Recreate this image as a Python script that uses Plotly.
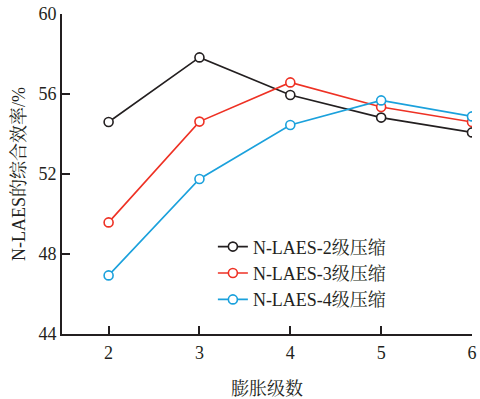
import plotly.graph_objects as go

stages = [2, 3, 4, 5, 6]
eff_2 = [54.6, 57.83, 55.95, 54.82, 54.08]
eff_3 = [49.58, 54.62, 56.58, 55.35, 54.6]
eff_4 = [46.93, 51.75, 54.45, 55.68, 54.88]
names = ["N-LAES-2级压缩", "N-LAES-3级压缩", "N-LAES-4级压缩"]
colors = ["#231f20", "#ee3124", "#1ba1dc"]
yticks = [44, 48, 52, 56, 60]

FONT = "'Liberation Serif', 'Times New Roman', 'Noto Serif CJK SC', 'Noto Sans CJK SC', serif"

fig = go.Figure()
for vals, name, col in zip([eff_2, eff_3, eff_4], names, colors):
    fig.add_trace(go.Scatter(
        x=stages, y=vals, name=name, mode="lines+markers",
        line=dict(color=col, width=1.6),
        marker=dict(symbol="circle", size=9, color="white",
                    line=dict(color=col, width=1.6)),
    ))

fig.update_layout(
    width=480, height=399,
    margin=dict(l=62, r=8, t=14, b=65),
    paper_bgcolor="white", plot_bgcolor="white",
    font=dict(family=FONT, size=18, color="#231f20"),
    showlegend=True,
    legend=dict(x=0.368, y=0.33, xanchor="left", yanchor="top",
                bgcolor="rgba(0,0,0,0)", font=dict(size=18, family=FONT),
                tracegroupgap=0, itemwidth=30),
    xaxis=dict(range=[1.487, 6.0], tickvals=stages, ticks="inside",
               ticklen=8, tickwidth=1.5, tickcolor="#231f20",
               showline=True, linecolor="#231f20", linewidth=1.6,
               showgrid=False, zeroline=False, automargin=False,
               ticklabelstandoff=2,
               title=dict(text="膨胀级数", font=dict(size=18, family=FONT), standoff=26)),
    yaxis=dict(range=[44, 60], tickvals=yticks, ticks="inside",
               ticklen=8, tickwidth=1.5, tickcolor="#231f20",
               showline=True, linecolor="#231f20", linewidth=1.6,
               showgrid=False, zeroline=False, automargin=False,
               title=dict(text="N-LAES的综合效率/%", font=dict(size=18, family=FONT), standoff=8)),
)

fig.write_html("out.html", config={"displayModeBar": False},
               post_script="document.body.style.margin='0';document.body.style.overflow='hidden';")
